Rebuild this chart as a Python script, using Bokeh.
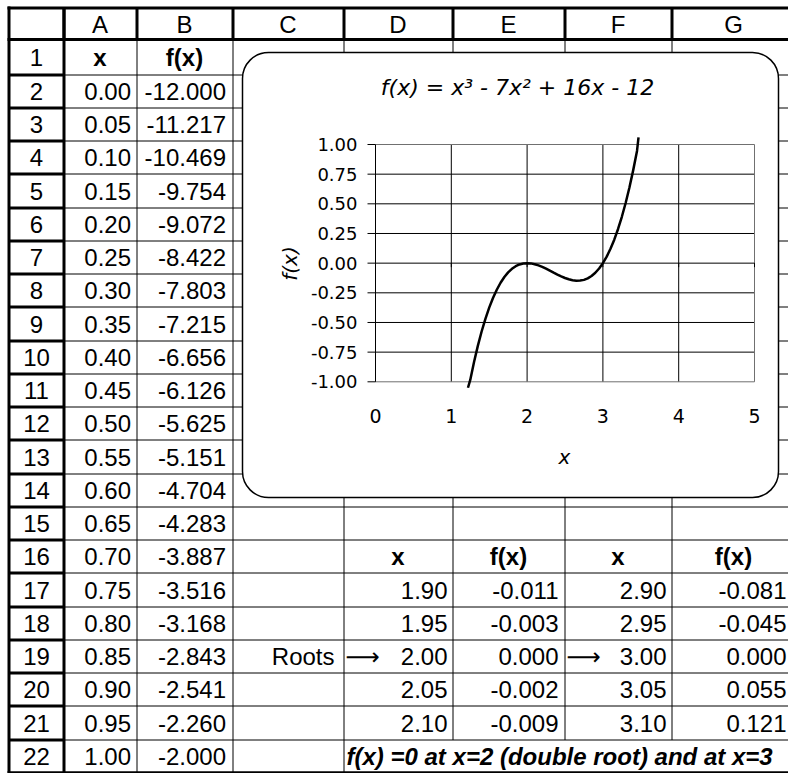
import math
from bokeh.plotting import figure
from bokeh.models import Range1d, BoxAnnotation
from bokeh.core.properties import value
from bokeh.embed import file_html
from bokeh.resources import INLINE

# ---------------- data ----------------
column_letters = ["A", "B", "C", "D", "E", "F", "G"]
row_numbers = list(range(1, 23))

table_x = [0.00, 0.05, 0.10, 0.15, 0.20, 0.25, 0.30, 0.35, 0.40, 0.45, 0.50,
           0.55, 0.60, 0.65, 0.70, 0.75, 0.80, 0.85, 0.90, 0.95, 1.00]
table_fx = [-12.000, -11.217, -10.469, -9.754, -9.072, -8.422, -7.803, -7.215,
            -6.656, -6.126, -5.625, -5.151, -4.704, -4.283, -3.887, -3.516,
            -3.168, -2.843, -2.541, -2.260, -2.000]

root1_x = [1.90, 1.95, 2.00, 2.05, 2.10]
root1_fx = [-0.011, -0.003, 0.000, -0.002, -0.009]
root2_x = [2.90, 2.95, 3.00, 3.05, 3.10]
root2_fx = [-0.081, -0.045, 0.000, 0.055, 0.121]

curve_x = [1.22, 1.25, 1.30, 1.35, 1.40, 1.45, 1.50, 1.55, 1.60, 1.65, 1.70, 1.75,
           1.80, 1.85, 1.90, 1.95, 2.00, 2.05, 2.10, 2.15, 2.20, 2.25, 2.30, 2.35,
           2.40, 2.45, 2.50, 2.55, 2.60, 2.65, 2.70, 2.75, 2.80, 2.85, 2.90, 2.95,
           3.00, 3.05, 3.10, 3.15, 3.20, 3.25, 3.30, 3.35, 3.40, 3.45, 3.47]
curve_y = [-1.05, -0.984, -0.833, -0.697, -0.576, -0.469, -0.375, -0.294, -0.224,
           -0.165, -0.117, -0.078, -0.048, -0.026, -0.011, -0.003, 0.000, -0.002,
           -0.009, -0.019, -0.032, -0.047, -0.063, -0.080, -0.096, -0.111, -0.125,
           -0.136, -0.144, -0.148, -0.147, -0.141, -0.128, -0.108, -0.081, -0.045,
           0.000, 0.055, 0.121, 0.198, 0.288, 0.391, 0.507, 0.638, 0.784, 0.946, 1.06]

x_ticks = [0, 1, 2, 3, 4, 5]
y_ticks = [-1.00, -0.75, -0.50, -0.25, 0.00, 0.25, 0.50, 0.75, 1.00]

chart_title = "f(x) = x³  - 7x²  + 16x - 12"
x_label = "x"
y_label = "f(x)"
roots_label = "Roots"
arrow_text = "⟶"
note_text = "f(x) =0 at x=2 (double root) and at x=3"

# ---------------- layout (canvas pixels) ----------------
W, H = 788, 773
PAGE_L, PAGE_R = 0, W
PAGE_T, PAGE_B = 0, H

SHEET_L = 8.5
SHEET_T = 7.5
COL_EDGES = [8, 63, 136, 232, 343, 452, 564, 671, 795]
HEADER_BOT = 39
ROW2_TOP = 74
ROW_H = 33.25


def crisp(v):
    return math.floor(v) + 0.5


def row_top(k):
    return HEADER_BOT if k == 1 else crisp(ROW2_TOP + ROW_H * (k - 2))


def row_bot(k):
    return row_top(k + 1) if k < 22 else ROW2_TOP + ROW_H * 21


def row_mid(k):
    return (row_top(k) + row_bot(k)) / 2


SHEET_BOTTOM = ROW2_TOP + ROW_H * 21

# chart box and plot area
BOX_L, BOX_R, BOX_T, BOX_B = 242, 778, 52, 497
PX_X0, PX_X5 = 375.0, 754.0
PX_Y1, PX_YM1 = 144.0, 381.3

p = figure(width=W, height=H, x_range=Range1d(PAGE_L, PAGE_R), y_range=Range1d(PAGE_B, PAGE_T),
           output_backend="svg", toolbar_location=None, x_axis_type=None, y_axis_type=None,
           min_border=0)
p.outline_line_color = None
p.background_fill_color = "white"
p.border_fill_color = "white"

SX = (PX_X5 - PX_X0) / (x_ticks[-1] - x_ticks[0])
SY = (PX_YM1 - PX_Y1) / (y_ticks[-1] - y_ticks[0])
p.extra_x_ranges = {"fx": Range1d(x_ticks[0] - (PX_X0 - PAGE_L) / SX,
                                  x_ticks[-1] + (PAGE_R - PX_X5) / SX)}
p.extra_y_ranges = {"fy": Range1d(y_ticks[0] - (PAGE_B - PX_YM1) / SY,
                                  y_ticks[-1] + (PX_Y1 - PAGE_T) / SY)}
CH = dict(x_range_name="fx", y_range_name="fy")

# ---------------- spreadsheet grid ----------------
thin = dict(x0=[], y0=[], x1=[], y1=[])
thick = dict(x0=[], y0=[], x1=[], y1=[])


def add(d, x0, y0, x1, y1):
    d["x0"].append(x0); d["y0"].append(y0); d["x1"].append(x1); d["y1"].append(y1)


# thin horizontal row boundaries in data area
for k in range(2, 23):
    add(thin, COL_EDGES[1], row_top(k), PAGE_R, row_top(k))
# thin vertical column lines
for cx in COL_EDGES[2:5]:
    add(thin, crisp(cx), HEADER_BOT, crisp(cx), SHEET_BOTTOM)
for cx in COL_EDGES[5:8]:
    add(thin, crisp(cx), HEADER_BOT, crisp(cx), row_top(22))

# thick header borders
add(thick, SHEET_L - 1.5, SHEET_T, PAGE_R, SHEET_T)
add(thick, SHEET_L - 1.5, HEADER_BOT, PAGE_R, HEADER_BOT)
for cx in COL_EDGES[1:8]:
    add(thick, crisp(cx), SHEET_T, crisp(cx), HEADER_BOT)
# thick row-number column
add(thick, SHEET_L, SHEET_T - 1.5, SHEET_L, SHEET_BOTTOM)
add(thick, crisp(COL_EDGES[1]), SHEET_T, crisp(COL_EDGES[1]), SHEET_BOTTOM)
for k in range(2, 23):
    add(thick, SHEET_L, row_top(k), COL_EDGES[1], row_top(k))

p.segment(**thin, line_color="black", line_width=1, level="image")
p.segment(**thick, line_color="black", line_width=3, level="image")
p.segment(x0=[SHEET_L - 1.5], y0=[SHEET_BOTTOM - 0.5], x1=[PAGE_R], y1=[SHEET_BOTTOM - 0.5],
          line_color="black", line_width=2, level="image")

# ---------------- spreadsheet texts ----------------
SHEET_FONT = "Liberation Sans"


def txt(xs, ys, texts, align="center", size="24px", style="normal", font=SHEET_FONT, **kw):
    p.text(x=xs, y=ys, text=texts, text_align=align, text_baseline="middle",
           text_font=value(font), text_font_size=size, text_font_style=style,
           text_color="black", **kw)


col_centers = [(COL_EDGES[i + 1] + COL_EDGES[i + 2]) / 2 for i in range(7)]
txt(col_centers, [24] * 7, column_letters)
txt([36] * len(row_numbers), [row_mid(k) for k in row_numbers], [str(k) for k in row_numbers])

txt([col_centers[0]], [row_mid(1)], ["x"], style="bold")
txt([col_centers[1]], [row_mid(1)], ["f(x)"], style="bold")
rows_tbl = list(range(2, 2 + len(table_x)))
txt([130.5] * len(table_x), [row_mid(k) for k in rows_tbl], [f"{v:.2f}" for v in table_x], align="right")
txt([225.5] * len(table_fx), [row_mid(k) for k in rows_tbl], [f"{v:.3f}" for v in table_fx], align="right")

txt(col_centers[3:7], [row_mid(16)] * 4, ["x", "f(x)", "x", "f(x)"], style="bold")
rows_r = list(range(17, 22))
txt([447] * 5, [row_mid(k) for k in rows_r], [f"{v:.2f}" for v in root1_x], align="right")
txt([558] * 5, [row_mid(k) for k in rows_r], [f"{v:.3f}" for v in root1_fx], align="right")
txt([666] * 5, [row_mid(k) for k in rows_r], [f"{v:.2f}" for v in root2_x], align="right")
txt([786] * 5, [row_mid(k) for k in rows_r], [f"{v:.3f}" for v in root2_fx], align="right")

txt([334], [row_mid(19)], [roots_label], align="right")
txt([345, 566], [row_mid(19)] * 2, [arrow_text] * 2, align="left", font="DejaVu Sans")
txt([346], [row_mid(22)], [note_text], align="left", style="bold italic")

# ---------------- chart box ----------------
box = BoxAnnotation(left=BOX_L, right=BOX_R, top=BOX_T, bottom=BOX_B,
                    fill_color="white", fill_alpha=1.0, line_color="black", line_alpha=1.0,
                    line_width=1.5, border_radius=26, level="underlay")
p.add_layout(box)

# ---------------- chart grid, axes, curve ----------------
XMIN, XMAX = x_ticks[0], x_ticks[-1]
YMIN, YMAX = y_ticks[0], y_ticks[-1]
inner_y = [v for v in y_ticks if v not in (YMIN, YMAX, 0.0)]
inner_x = [v for v in x_ticks if v not in (XMIN, XMAX)]

p.segment(x0=[XMIN] * len(inner_y), y0=inner_y, x1=[XMAX] * len(inner_y), y1=inner_y,
          line_color="black", line_width=1, **CH)
p.segment(x0=inner_x, y0=[YMIN] * len(inner_x), x1=inner_x, y1=[YMAX] * len(inner_x),
          line_color="black", line_width=1, **CH)
# plot-area border (top, right, bottom)
p.line(x=[XMIN, XMAX, XMAX, XMIN], y=[YMAX, YMAX, YMIN, YMIN],
       line_color="#707070", line_width=1, **CH)
# axes lines
p.segment(x0=[XMIN, XMIN], y0=[YMIN, 0.0], x1=[XMIN, XMAX], y1=[YMAX, 0.0],
          line_color="black", line_width=1, **CH)
# tick marks
tick_y_len = 8 / SX
tick_x_len = 4 / SY
p.segment(x0=[XMIN - tick_y_len] * len(y_ticks), y0=y_ticks, x1=[XMIN] * len(y_ticks), y1=y_ticks,
          line_color="black", line_width=1, **CH)
p.segment(x0=x_ticks, y0=[0.0] * len(x_ticks), x1=x_ticks, y1=[-tick_x_len] * len(x_ticks),
          line_color="black", line_width=1, **CH)

p.line(x=curve_x, y=curve_y, line_color="black", line_width=2.5, line_join="round", **CH)

CHART_FONT = "DejaVu Sans"
p.text(x=[XMIN] * len(y_ticks), y=y_ticks, text=[f"{v:.2f}" for v in y_ticks],
       x_offset=-18, text_align="right", text_baseline="middle",
       text_font=value(CHART_FONT), text_font_size="18px", text_color="black", **CH)
p.text(x=x_ticks, y=[YMIN] * len(x_ticks), text=[str(v) for v in x_ticks],
       y_offset=34, text_align="center", text_baseline="middle",
       text_font=value(CHART_FONT), text_font_size="19px", text_color="black", **CH)

txt([524], [87], [chart_title], size="22px", style="italic", font=CHART_FONT)
txt([564], [456], [x_label], size="20px", style="italic", font=CHART_FONT)
txt([289], [263], [y_label], size="20px", style="italic", font=CHART_FONT, angle=math.pi / 2)

open("out.html", "w").write(file_html(p, INLINE))
